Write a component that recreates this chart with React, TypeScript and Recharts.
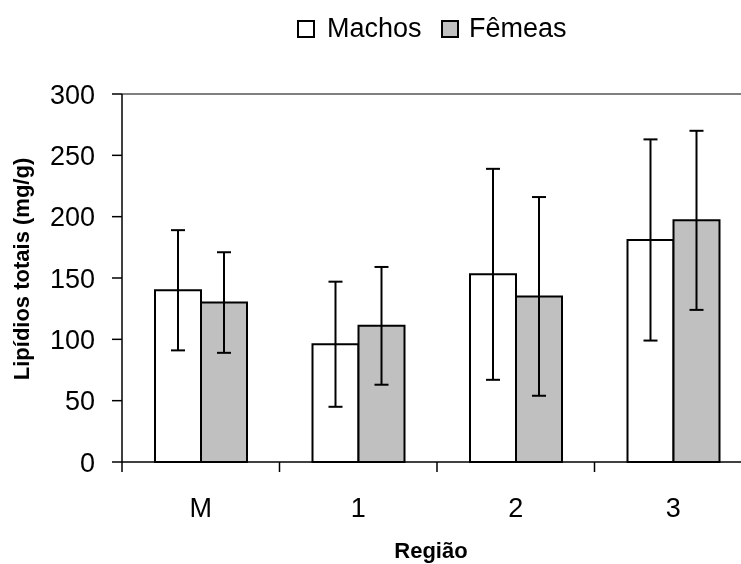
import React from "react";
import {
  BarChart,
  Bar,
  XAxis,
  YAxis,
  ErrorBar,
  Legend,
  ReferenceLine,
  Label,
} from "recharts";

const regions = ["M", "1", "2", "3"];
const machos = [140, 96, 153, 181];
const machosErr = [49, 51, 86, 82];
const femeas = [130, 111, 135, 197];
const femeasErr = [41, 48, 81, 73];
const yTicks = [0, 50, 100, 150, 200, 250, 300];

const data = regions.map((r, i) => ({
  regiao: r,
  machos: machos[i],
  machosErr: machosErr[i],
  femeas: femeas[i],
  femeasErr: femeasErr[i],
}));

const W = 760;
const H = 560;
const M = { top: 86, right: 16, left: 34, bottom: 46 };
const Y_W = 80;
const X_H = 60;
const PLOT_W = W - M.left - Y_W - M.right;
const STEP = PLOT_W / regions.length;
const FONT = "'Liberation Sans', Arial, sans-serif";

function CategoryTick(props: any) {
  const { x, y, payload, index } = props;
  const left = x - STEP / 2;
  const right = x + STEP / 2;
  return (
    <g>
      <line x1={left} y1={y} x2={left} y2={y + 10} stroke="#000" strokeWidth={1.5} />
      {index === regions.length - 1 && (
        <line x1={right} y1={y} x2={right} y2={y + 10} stroke="#000" strokeWidth={1.5} />
      )}
      <text x={x} y={y + 55} textAnchor="middle" fontSize={27} fontFamily={FONT} fill="#000">
        {payload.value}
      </text>
    </g>
  );
}

function YTitle(props: any) {
  const { viewBox } = props;
  const cy = viewBox.y + viewBox.height / 2 - 9;
  const cx = 21;
  return (
    <text
      x={cx}
      y={cy}
      transform={`rotate(-90 ${cx} ${cy})`}
      textAnchor="middle"
      fontSize={22}
      fontWeight="bold"
      fontFamily={FONT}
      fill="#000"
    >
      Lipídios totais (mg/g)
    </text>
  );
}

function XTitle(props: any) {
  const { viewBox } = props;
  const cx = viewBox.x + viewBox.width / 2 - 6;
  return (
    <text x={cx} y={550} textAnchor="middle" fontSize={22} fontWeight="bold" fontFamily={FONT} fill="#000">
      Região
    </text>
  );
}

function LegendBox() {
  const box = (left: number, fill: string) => (
    <div
      style={{
        position: "absolute",
        left,
        top: 12,
        width: 18,
        height: 18,
        boxSizing: "border-box",
        border: "2px solid #000",
        background: fill,
      }}
    />
  );
  const label = (left: number, text: string) => (
    <div
      style={{
        position: "absolute",
        left,
        top: 7,
        fontSize: 27,
        lineHeight: "27px",
        fontFamily: FONT,
        color: "#000",
        whiteSpace: "nowrap",
      }}
    >
      {text}
    </div>
  );
  return (
    <div style={{ position: "relative", width: W, height: 40 }}>
      {box(289, "#fff")}
      {label(319, "Machos")}
      {box(433, "#C0C0C0")}
      {label(461, "Fêmeas")}
    </div>
  );
}

export default function App() {
  return (
    <div style={{ position: "fixed", left: 0, top: 0, width: 741, height: 564, overflow: "hidden" }}>
      <div style={{ position: "absolute", left: 8, top: 8 }}>
        <BarChart width={W} height={H} data={data} margin={M} barSize={46} barGap={0}>
          <ReferenceLine y={300} stroke="#808080" strokeWidth={2} />
          <XAxis
            dataKey="regiao"
            height={X_H}
            axisLine={{ stroke: "#000", strokeWidth: 1.5 }}
            tickLine={false}
            tickSize={0}
            tickMargin={0}
            tick={<CategoryTick />}
            interval={0}
          >
            <Label content={<XTitle />} />
          </XAxis>
          <YAxis
            width={Y_W}
            domain={[0, 300]}
            ticks={yTicks}
            interval={0}
            axisLine={{ stroke: "#000", strokeWidth: 1.5 }}
            tickLine={{ stroke: "#000", strokeWidth: 1.5 }}
            tickSize={10}
            tickMargin={17}
            tick={{ fontSize: 27, fill: "#000", fontFamily: FONT }}
          >
            <Label content={<YTitle />} />
          </YAxis>
          <Legend
            layout="horizontal"
            verticalAlign="middle"
            align="center"
            wrapperStyle={{ position: "absolute", top: 0, left: 0, width: W, height: 40 }}
            content={() => <LegendBox />}
          />
          <Bar dataKey="machos" name="Machos" fill="#FFFFFF" stroke="#000" strokeWidth={2} isAnimationActive={false}>
            <ErrorBar dataKey="machosErr" width={7} stroke="#000" strokeWidth={2} />
          </Bar>
          <Bar dataKey="femeas" name="Fêmeas" fill="#C0C0C0" stroke="#000" strokeWidth={2} isAnimationActive={false}>
            <ErrorBar dataKey="femeasErr" width={7} stroke="#000" strokeWidth={2} />
          </Bar>
        </BarChart>
      </div>
    </div>
  );
}
